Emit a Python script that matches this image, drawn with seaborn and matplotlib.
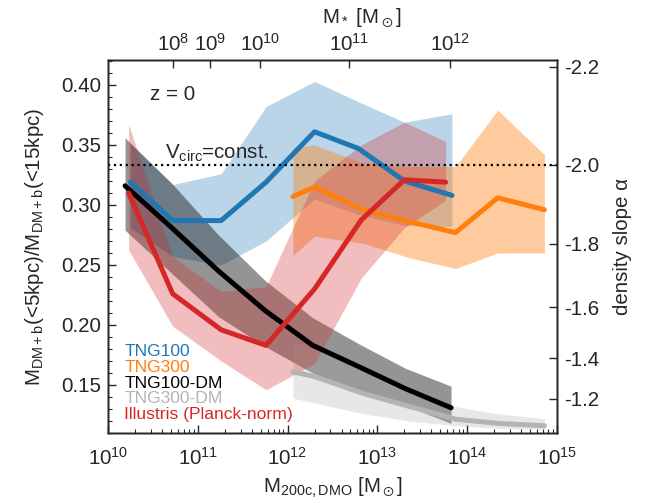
import numpy as np
import seaborn as sns
import matplotlib
matplotlib.use("Agg")
import matplotlib.pyplot as plt
from matplotlib.ticker import MultipleLocator, NullLocator, NullFormatter


# ======================================
# DATA  (log10 M200c,DMO  vs  M(<5kpc)/M(<15kpc))
# ======================================

TNG100_X = [10.25, 10.72, 11.26, 11.76, 12.30, 12.79, 13.30, 13.83]
TNG100_MED = [0.319, 0.287, 0.287, 0.319, 0.361, 0.347, 0.320, 0.308]
TNG100_HI = [0.351, 0.317, 0.326, 0.382, 0.403, 0.386, 0.369, 0.376]
TNG100_LO = [0.281, 0.257, 0.250, 0.270, 0.305, 0.292, 0.283, 0.282]

TNG300_X = [12.06, 12.30, 12.84, 13.36, 13.87, 14.34, 14.86]
TNG300_MED = [0.307, 0.315, 0.296, 0.286, 0.277, 0.306, 0.296]
TNG300_HI = [0.348, 0.350, 0.335, 0.332, 0.332, 0.379, 0.342]
TNG300_LO = [0.258, 0.274, 0.268, 0.256, 0.247, 0.260, 0.260]

TNG100DM_X = [10.19, 10.71, 11.23, 11.75, 12.28, 12.80, 13.31, 13.82]
TNG100DM_MED = [0.316, 0.281, 0.245, 0.212, 0.183, 0.165, 0.147, 0.131]
TNG100DM_HI = [0.356, 0.318, 0.275, 0.237, 0.206, 0.184, 0.164, 0.149]
TNG100DM_LO = [0.279, 0.243, 0.207, 0.182, 0.160, 0.145, 0.133, 0.118]

TNG300DM_X = [12.06, 12.30, 12.84, 13.36, 13.87, 14.34, 14.86]
TNG300DM_MED = [0.161, 0.157, 0.143, 0.132, 0.1215, 0.118, 0.116]
TNG300DM_HI = [0.186, 0.180, 0.163, 0.146, 0.132, 0.126, 0.122]
TNG300DM_LO = [0.139, 0.135, 0.126, 0.120, 0.116, 0.114, 0.113]

ILL_X = [10.23, 10.72, 11.26, 11.76, 12.30, 12.82, 13.30, 13.76]
ILL_MED = [0.310, 0.226, 0.196, 0.183, 0.230, 0.2875, 0.321, 0.319]
ILL_HI = [0.367, 0.257, 0.228, 0.232, 0.320, 0.350, 0.369, 0.353]
ILL_LO = [0.2625, 0.199, 0.170, 0.146, 0.168, 0.239, 0.281, 0.304]

# right axis: density slope alpha, top axis: stellar mass
ALPHA_TICKS = [-2.2, -2.0, -1.8, -1.6, -1.4, -1.2]
MSTAR_HALO_LOG = [10.726, 11.133, 11.689, 12.689, 13.808]
MSTAR_LABELS = ["$10^{8}$", "$10^{9}$", "$10^{10}$", "$10^{11}$", "$10^{12}$"]

LEGEND_NAMES = ["TNG100", "TNG300", "TNG100-DM", "TNG300-DM",
                "Illustris (Planck-norm)"]


# ======================================
# STYLE
# ======================================

sns.set_style("ticks")
plt.rcParams["font.family"] = ["Liberation Sans", "DejaVu Sans"]
plt.rcParams["mathtext.fontset"] = "custom"
plt.rcParams["mathtext.rm"] = "Liberation Sans"
plt.rcParams["mathtext.it"] = "Liberation Sans:italic"
plt.rcParams["mathtext.default"] = "regular"
plt.rcParams["axes.linewidth"] = 1.0

FS = 14.8

series = [
    ("#1f77b4", 0.30, TNG100_X, TNG100_MED, TNG100_LO, TNG100_HI),
    ("#ff7f0e", 0.40, TNG300_X, TNG300_MED, TNG300_LO, TNG300_HI),
    ("black", 0.42, TNG100DM_X, TNG100DM_MED, TNG100DM_LO, TNG100DM_HI),
    ("#aaaaaa", 0.28, TNG300DM_X, TNG300DM_MED, TNG300DM_LO, TNG300DM_HI),
    ("#d62728", 0.30, ILL_X, ILL_MED, ILL_LO, ILL_HI),
]
line_colors = ["#1f77b4", "#ff7f0e", "black", "#b4b4b4", "#d62728"]


# ======================================
# FIGURE
# ======================================

fig = plt.figure(figsize=(6.53, 5.03), dpi=100)
ax = fig.add_axes([0.1654, 0.1392, 0.6876, 0.7415])
ax.set_xscale("log")

for (col, alpha, x, med, lo, hi), lc in zip(series, line_colors):
    xm = 10 ** np.array(x)
    ax.fill_between(xm, lo, hi, color=col, alpha=alpha, lw=0)
    sns.lineplot(x=xm, y=med, ax=ax, color=lc, lw=3.6, legend=False)

ax.axhline(1 / 3, color="black", ls=":", lw=1.6)

ax.set_xlim(1e10, 1e15)
ax.set_ylim(0.11, 0.4208)

ax.text(10 ** 10.633, 0.3345, r"V$_{\rm circ}$=const.", fontsize=FS,
        ha="left", va="bottom")
ax.text(10 ** 10.467, 0.392, "z = 0", fontsize=FS, ha="left", va="center")

# legend as coloured text lines (baselines)
legend_y = [0.2064, 0.1635, 0.1214, 0.0804, 0.0383]
for name, lc, yy in zip(LEGEND_NAMES, line_colors, legend_y):
    ax.text(0.036, yy, name, color=lc, fontsize=12.6, transform=ax.transAxes,
            ha="left", va="baseline")

ax.set_xlabel(r"M$_{\rm 200c,DMO}$ [M$_\odot$]", fontsize=FS, labelpad=5)
ax.set_ylabel(r"M$_{\rm DM+b}$(<5kpc)/M$_{\rm DM+b}$(<15kpc)", fontsize=FS,
              labelpad=11)

ax.yaxis.set_major_locator(MultipleLocator(0.05))
ax.yaxis.set_minor_locator(MultipleLocator(0.01))
ax.yaxis.set_major_formatter(matplotlib.ticker.FormatStrFormatter("%.2f"))
ax.tick_params(axis="both", which="major", direction="in", length=6,
               width=1, labelsize=FS, top=False, right=False)
ax.tick_params(axis="both", which="minor", direction="in", length=3,
               width=0.8, top=False, right=False)
ax.tick_params(axis="x", which="major", pad=10)
ax.tick_params(axis="y", which="major", pad=5)

# right axis: density slope
axr = ax.twinx()
axr.set_ylim(ax.get_ylim())
axr.set_yticks([(1 / 3) ** (3 + a) for a in ALPHA_TICKS])
axr.set_yticklabels([f"{a:.1f}" for a in ALPHA_TICKS])
axr.yaxis.set_minor_locator(NullLocator())
axr.tick_params(axis="y", direction="in", length=6, width=1, labelsize=FS,
                pad=5)
axr.set_ylabel("density slope α", fontsize=FS, labelpad=10)

# top axis: stellar mass
axt = ax.twiny()
axt.set_xscale("log")
axt.set_xlim(ax.get_xlim())
axt.set_xticks([10 ** v for v in MSTAR_HALO_LOG])
axt.set_xticklabels(MSTAR_LABELS)
axt.xaxis.set_minor_locator(NullLocator())
axt.xaxis.set_minor_formatter(NullFormatter())
axt.tick_params(axis="x", direction="in", length=6, width=1, labelsize=FS,
                pad=4)
axt.set_xlabel(r"M$_*$ [M$_\odot$]", fontsize=FS, labelpad=4)
axt.xaxis.set_label_coords(0.565, 1.10)

fig.savefig("out.png", dpi=100)
